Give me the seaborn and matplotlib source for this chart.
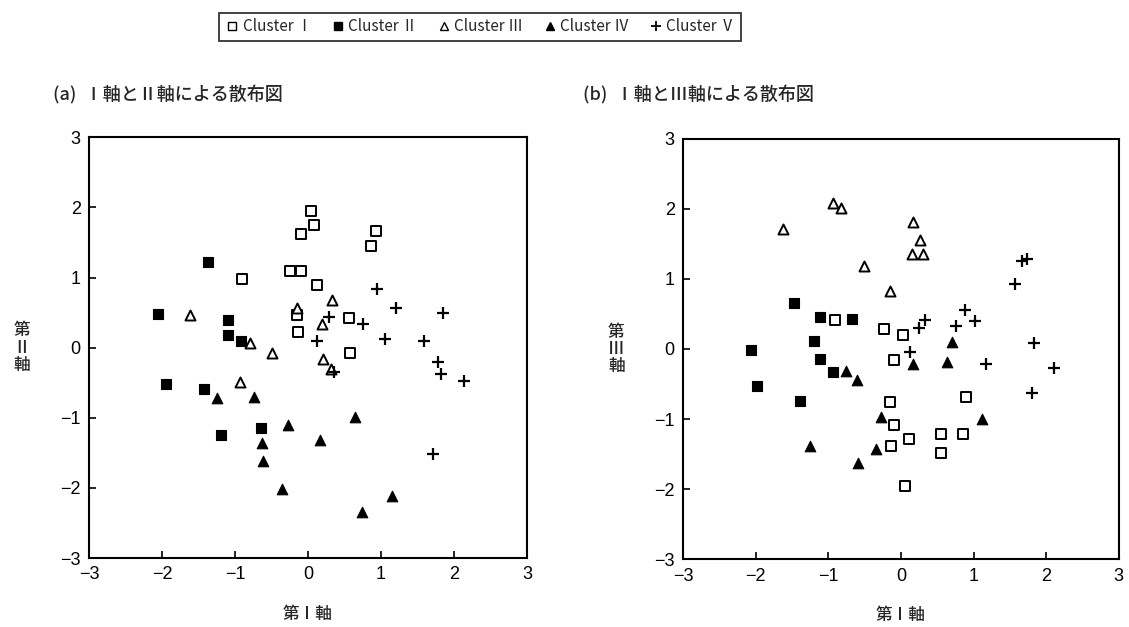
import numpy as np
import pandas as pd
import matplotlib as mpl
mpl.use('Agg')
import matplotlib.pyplot as plt
from matplotlib.lines import Line2D
import seaborn as sns

sns.set_theme(style='ticks')
plt.rcParams['font.family'] = ['Liberation Sans', 'Noto Sans CJK JP', 'DejaVu Sans']
JP = ['Noto Sans CJK JP', 'DejaVu Sans']

clusters = ['Cluster Ⅰ', 'Cluster Ⅱ', 'Cluster Ⅲ', 'Cluster Ⅳ', 'Cluster Ⅴ']

# (a) axis I vs axis II
a_x1 = [0.04, 0.08, -0.10, 0.93, 0.86, -0.90, -0.24, -0.10, 0.12, -0.15, -0.14, 0.56, 0.58]
a_y1 = [1.95, 1.75, 1.62, 1.67, 1.45, 0.98, 1.09, 1.09, 0.90, 0.46, 0.22, 0.43, -0.08]
a_x2 = [-1.37, -2.06, -1.10, -1.10, -0.92, -1.95, -1.43, -1.19, -0.64]
a_y2 = [1.22, 0.48, 0.39, 0.18, 0.09, -0.52, -0.59, -1.24, -1.15]
a_x3 = [-1.61, -0.15, -0.79, 0.33, 0.19, -0.49, -0.93, 0.20, 0.31]
a_y3 = [0.46, 0.57, 0.07, 0.68, 0.34, -0.08, -0.49, -0.16, -0.31]
a_x4 = [-1.24, -0.74, -0.28, -0.63, -0.61, -0.36, 0.16, 0.64, 1.15, 0.74]
a_y4 = [-0.72, -0.71, -1.10, -1.36, -1.61, -2.02, -1.31, -0.99, -2.12, -2.34]
a_x5 = [0.95, 1.20, 1.85, 0.29, 0.75, 0.12, 1.05, 1.59, 1.78, 1.82, 2.14, 1.71, 0.35]
a_y5 = [0.83, 0.57, 0.50, 0.44, 0.34, 0.09, 0.13, 0.09, -0.20, -0.37, -0.47, -1.52, -0.35]

# (b) axis I vs axis III
b_x1 = [-0.91, -0.24, 0.03, -0.10, 0.90, -0.15, -0.10, 0.11, -0.14, 0.55, 0.85, 0.55, 0.06]
b_y1 = [0.41, 0.28, 0.20, -0.16, -0.68, -0.76, -1.08, -1.28, -1.38, -1.21, -1.22, -1.49, -1.96]
b_x2 = [-1.47, -2.07, -1.98, -1.39, -1.11, -0.67, -1.20, -1.12, -0.93]
b_y2 = [0.65, -0.02, -0.53, -0.74, 0.45, 0.42, 0.12, -0.15, -0.33]
b_x3 = [-1.63, -0.94, -0.82, 0.17, 0.26, 0.15, 0.31, -0.51, -0.15]
b_y3 = [1.71, 2.08, 2.01, 1.81, 1.55, 1.35, 1.36, 1.18, 0.82]
b_x4 = [0.70, 0.16, 0.63, -0.76, -0.61, -0.27, 1.12, -1.25, -0.34, -0.59]
b_y4 = [0.10, -0.22, -0.18, -0.31, -0.45, -0.97, -1.00, -1.38, -1.43, -1.63]
b_x5 = [1.66, 1.74, 1.57, 0.88, 1.02, 0.33, 0.25, 0.76, 0.12, 1.17, 1.80, 1.83, 2.11]
b_y5 = [1.25, 1.28, 0.92, 0.55, 0.40, 0.41, 0.30, 0.33, -0.05, -0.22, -0.63, 0.09, -0.27]

ticks = [-3, -2, -1, 0, 1, 2, 3]

def make_df(xs, ys):
    rows = []
    for c, x, y in zip(clusters, xs, ys):
        rows.append(pd.DataFrame({'x': x, 'y': y, 'cluster': c}))
    return pd.concat(rows, ignore_index=True)

df_a = make_df([a_x1, a_x2, a_x3, a_x4, a_x5], [a_y1, a_y2, a_y3, a_y4, a_y5])
df_b = make_df([b_x1, b_x2, b_x3, b_x4, b_x5], [b_y1, b_y2, b_y3, b_y4, b_y5])

# marker look for each cluster
styles = {
    'Cluster Ⅰ': dict(marker='s', facecolor='white', edgecolor='black', s=42, linewidth=1.4),
    'Cluster Ⅱ': dict(marker='s', facecolor='black', edgecolor='black', s=48, linewidth=0.8),
    'Cluster Ⅲ': dict(marker='^', facecolor='white', edgecolor='black', s=52, linewidth=1.4),
    'Cluster Ⅳ': dict(marker='^', facecolor='black', edgecolor='black', s=58, linewidth=0.8),
    'Cluster Ⅴ': dict(marker='+', color='black', s=70, linewidth=1.6),
}

fig = plt.figure(figsize=(11.29, 6.27), dpi=100)
ax_a = fig.add_axes([0.0788, 0.110, 0.388, 0.671])
ax_b = fig.add_axes([0.605, 0.108, 0.386, 0.671])

panels = [(ax_a, df_a, '第\nⅡ\n軸', '(a)  Ⅰ軸とⅡ軸による散布図', 0.047),
          (ax_b, df_b, '第\nⅢ\n軸', '(b)  Ⅰ軸とⅢ軸による散布図', 0.516)]

for ax, df, ylab, title, tx in panels:
    for c in clusters:
        sub = df[df['cluster'] == c]
        sns.scatterplot(data=sub, x='x', y='y', ax=ax, legend=False, zorder=3, **styles[c])
    ax.set_xlim(-3, 3)
    ax.set_ylim(-3, 3)
    ax.set_xticks(ticks)
    ax.set_yticks(ticks)
    ax.tick_params(direction='in', length=5, width=1.2, labelsize=13, colors='black', pad=6)
    for sp in ax.spines.values():
        sp.set_visible(True)
        sp.set_linewidth(1.5)
        sp.set_color('black')
    ax.set_xlabel('第Ⅰ軸', fontsize=12, family=JP, fontweight='medium')
    ax.xaxis.set_label_coords(0.5, -0.112)
    ax.set_ylabel(ylab, fontsize=12, family=JP, fontweight='medium', rotation=0,
                  ha='center', va='center', linespacing=0.95)
    ax.yaxis.set_label_coords(-0.153, 0.5)
    fig.text(tx, 1 - 95 / 627, title, fontsize=13, family=JP, fontweight='medium',
             ha='left', va='center')

handles = []
for c in clusters:
    st = styles[c]
    if st['marker'] == '+':
        h = Line2D([], [], linestyle='none', marker='+', color='black', markersize=7, markeredgewidth=1.3)
    else:
        h = Line2D([], [], linestyle='none', marker=st['marker'], markerfacecolor=st['facecolor'],
                   markeredgecolor='black', markersize=6, markeredgewidth=1.0)
    handles.append(h)

leg = fig.legend(handles, clusters, loc='center', bbox_to_anchor=(0.425, 0.957), ncol=5,
                 frameon=True, fancybox=False, edgecolor='black',
                 prop={'family': JP, 'size': 11},
                 handletextpad=0.2, columnspacing=1.2, handlelength=1.0, borderpad=0.35)
leg.get_frame().set_linewidth(1.3)

fig.savefig('out.png', dpi=100, facecolor='white')
